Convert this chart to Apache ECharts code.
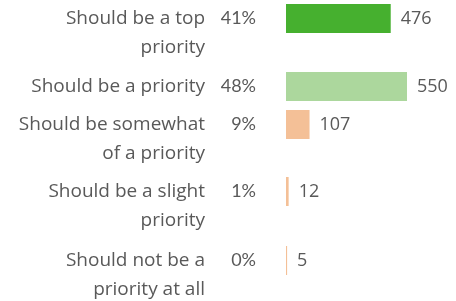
<!DOCTYPE html>
<html>
<head>
<meta charset="utf-8">
<script src="https://cdn.jsdelivr.net/npm/echarts@6/dist/echarts.min.js"></script>
<style>
  html, body { margin: 0; padding: 0; background: #fff; }
  #chart { width: 456px; height: 301px; }
</style>
</head>
<body>
<div id="chart"></div>
<script>
const categories = [
  'Should be a top\npriority',
  'Should be a priority',
  'Should be somewhat\nof a priority',
  'Should be a slight\npriority',
  'Should not be a\npriority at all',
];
const percents = ['41%', '48%', '9%', '1%', '0%'];
const counts = [476, 550, 107, 12, 5];
const barColors = ['#46b02f', '#acd79d', '#f4c097', '#f4c097', '#f4c097'];

// each answer sits in its own row, rows are not evenly spaced in the source
const rowTops = [4, 72, 110, 177, 246];
const rowHeight = 29;
const textColor = '#595959';
const font = 'Open Sans';

const chart = echarts.init(document.getElementById('chart'));

const grid = [], xAxis = [], yAxis = [], series = [];
categories.forEach((cat, i) => {
  grid.push({ left: 286, width: 132, top: rowTops[i], height: rowHeight, outerBoundsMode: 'none' });
  xAxis.push({ gridIndex: i, type: 'value', min: 0, max: 600, show: false });
  yAxis.push({
    gridIndex: i, type: 'category', data: [percents[i]], position: 'left',
    axisLine: { show: false }, axisTick: { show: false },
    axisLabel: { margin: 30, color: textColor, fontSize: 18, fontFamily: 'Lato' },
  });
  // category text; two-line labels get a blank line on top so line one meets the bar
  const lines = cat.split('\n');
  yAxis.push({
    gridIndex: i, type: 'category', data: [cat], position: 'left', offset: 81,
    axisLine: { show: false }, axisTick: { show: false },
    axisLabel: {
      margin: 0, color: textColor, fontSize: 19, fontFamily: font, lineHeight: 29,
      formatter: (v) => (lines.length > 1 ? ' \n' : '') + v,
    },
  });
  series.push({
    type: 'bar', xAxisIndex: i, yAxisIndex: i * 2,
    data: [counts[i]], barWidth: '100%',
    itemStyle: { color: barColors[i] },
    label: {
      show: true, position: 'right', distance: 10,
      color: textColor, fontSize: 18, fontFamily: font,
    },
    silent: true,
  });
});

chart.setOption({
  animation: false,
  backgroundColor: '#fff',
  grid, xAxis, yAxis, series,
});
</script>
</body>
</html>
